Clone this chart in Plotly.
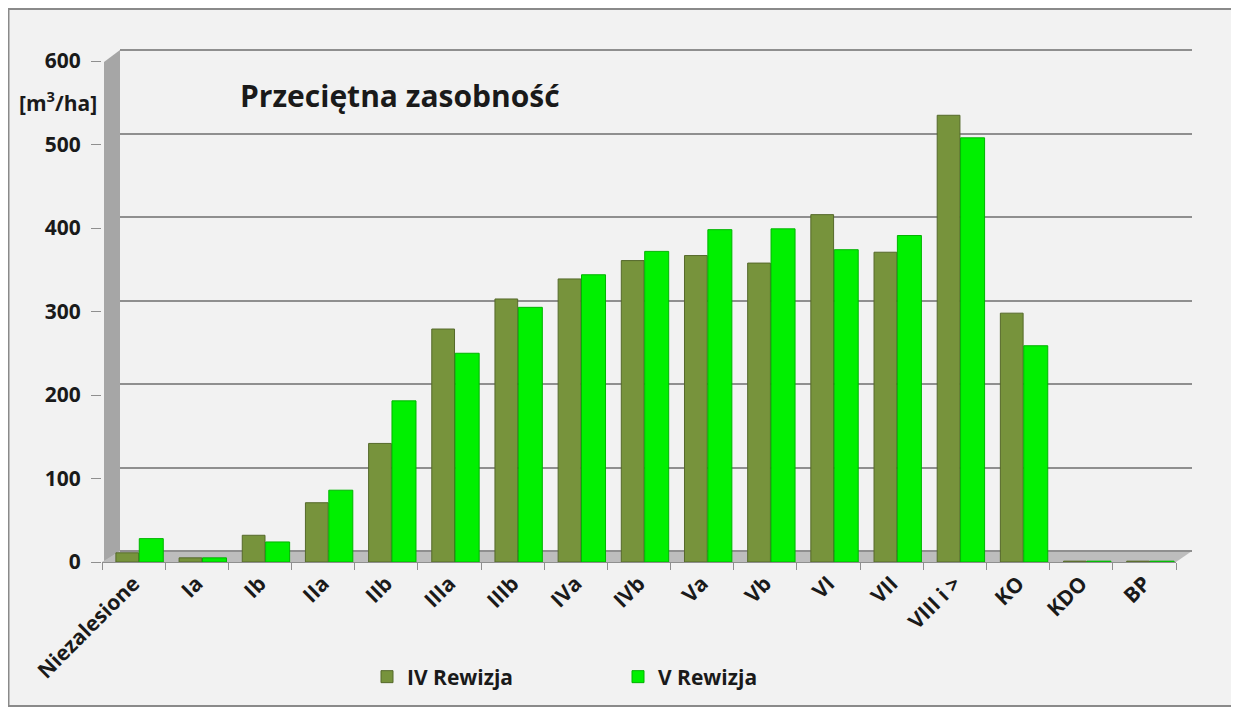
import plotly.graph_objects as go

categories = ["Niezalesione", "Ia", "Ib", "IIa", "IIb", "IIIa", "IIIb", "IVa", "IVb",
              "Va", "Vb", "VI", "VII", "VIII i >", "KO", "KDO", "BP"]
rewizja_iv = [11, 5, 32, 71, 142, 279, 315, 339, 361, 367, 358, 416, 371, 535, 298, 1, 1]
rewizja_v = [28, 5, 24, 86, 193, 250, 305, 344, 372, 398, 399, 374, 391, 508, 259, 1, 1]
y_ticks = [0, 100, 200, 300, 400, 500, 600]

FONT = "Open Sans"
OFF = 8                 # page body margin
TOP_REF, BOT_REF = 46, 562
W, H = 1231, 705
L, T = 102 - OFF, TOP_REF - OFF
R = W - (1192 - OFF)
B = H - (BOT_REF - OFF)
PW = W - L - R
PH = H - T - B

def px_x(p):
    return (p - OFF - L) / PW

def px_y(p):
    return (H - B - (p - OFF)) / PH

SCALE = 501 / 600       # px per unit

fig = go.Figure()

# dummy trace for back-wall grid subplot
fig.add_trace(go.Scatter(x=[], y=[], xaxis="x", yaxis="y", showlegend=False, hoverinfo="skip"))

fig.add_trace(go.Bar(
    name="IV Rewizja", x=categories, y=rewizja_iv, xaxis="x2", yaxis="y2",
    offset=-0.28, width=0.36, legend="legend",
    marker=dict(color="#77933C", line=dict(color="#55692a", width=1)),
))
fig.add_trace(go.Bar(
    name="V Rewizja", x=categories, y=rewizja_v, xaxis="x2", yaxis="y2",
    offset=0.09, width=0.38, legend="legend2",
    marker=dict(color="#00F000", line=dict(color="#00b400", width=1)),
))

shapes = [
    # background frame
    dict(type="rect", xref="paper", yref="paper",
         x0=px_x(8.5), x1=px_x(1232), y0=px_y(706), y1=px_y(9),
         fillcolor="#f2f2f2", line=dict(color="#8a8a8a", width=2), layer="below"),
    # left wall
    dict(type="path", xref="paper", yref="paper",
         path=f"M {px_x(104)},{px_y(562)} L {px_x(120)},{px_y(551)} L {px_x(120)},{px_y(50)} "
              f"L {px_x(104)},{px_y(62)} Z",
         fillcolor="#a6a6a6", line=dict(width=0), layer="below"),
    # floor
    dict(type="path", xref="paper", yref="paper",
         path=f"M {px_x(102)},{px_y(562)} L {px_x(1176)},{px_y(562)} L {px_x(1192)},{px_y(551)} "
              f"L {px_x(120)},{px_y(551)} Z",
         fillcolor="#bdbdbd", line=dict(width=0), layer="below"),
]

legend_font = dict(family=FONT, size=21, color="#1a1a1a", weight="bold")

fig.update_layout(
    width=W, height=H,
    margin=dict(l=L, r=R, t=T, b=B, autoexpand=False),
    paper_bgcolor="white",
    plot_bgcolor="rgba(0,0,0,0)",
    font=dict(family=FONT, color="#1a1a1a"),
    barmode="group",
    shapes=shapes,
    showlegend=True,
    legend=dict(orientation="h", x=px_x(367), xanchor="left", y=px_y(677), yanchor="middle",
                font=legend_font, bgcolor="rgba(0,0,0,0)", itemwidth=30),
    legend2=dict(orientation="h", x=px_x(618), xanchor="left", y=px_y(677), yanchor="middle",
                 font=legend_font, bgcolor="rgba(0,0,0,0)", itemwidth=30),
    xaxis=dict(domain=[px_x(120), 1], range=[0, 1], visible=False, anchor="y"),
    yaxis=dict(domain=[0, 1],
               range=[-(BOT_REF - 551) / SCALE, 600 + (50 - TOP_REF) / SCALE], anchor="x",
               showgrid=True, gridcolor="#8f8f8f", gridwidth=2, tickvals=y_ticks,
               showticklabels=False, ticks="", zeroline=False, showline=False),
    xaxis2=dict(domain=[0, px_x(1176)], anchor="y2", type="category",
                range=[-0.5, len(categories) - 0.5],
                showline=True, linecolor="#8f8f8f", linewidth=1,
                ticks="outside", tickson="boundaries", ticklen=7, tickcolor="#8f8f8f",
                tickangle=-45, showgrid=False,
                tickfont=dict(family=FONT, size=21, color="#1a1a1a", weight="bold")),
    yaxis2=dict(domain=[0, 1], anchor="x2", range=[0, PH / SCALE],
                tickvals=y_ticks, ticks="outside", ticklen=10, tickcolor="#8f8f8f",
                showgrid=False, zeroline=False, showline=False,
                ticklabelstandoff=6,
                tickfont=dict(family=FONT, size=21, color="#1a1a1a", weight="bold")),
    annotations=[
        dict(text="Przeciętna zasobność", xref="paper", yref="paper",
             x=px_x(238), y=px_y(96), xanchor="left", yanchor="middle", showarrow=False,
             font=dict(family=FONT, size=30, color="#1a1a1a", weight="bold")),
        dict(text="[m<sup>3</sup>/ha]", xref="paper", yref="paper",
             x=px_x(58), y=px_y(102), xanchor="center", yanchor="middle", showarrow=False,
             font=dict(family=FONT, size=21, color="#1a1a1a", weight="bold")),
    ],
)

fig.write_html("out.html")
